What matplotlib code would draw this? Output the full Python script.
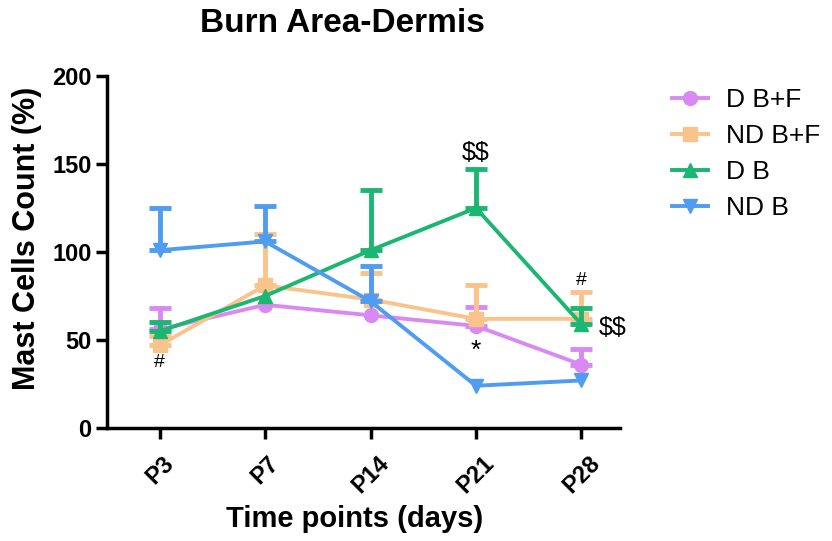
import numpy as np
import matplotlib.pyplot as plt

plt.rcParams['font.family'] = ['Liberation Sans', 'DejaVu Sans']

time_points = ["P3", "P7", "P14", "P21", "P28"]

# medias y error superior (SEM); None = barra no visible
d_bf = [56, 70, 64, 58, 36]
d_bf_err = [12, None, None, 11, 9]
nd_bf = [47, 81, 73, 62, 62]
nd_bf_err = [5, 29, 15, 19, 15]
d_b = [55, 75, 101, 125, 59]
d_b_err = [5, None, 34, 22, 9]
nd_b = [101, 106, 72, 24, 27]
nd_b_err = [24, 20, 20, None, None]

series = [
    ("D B+F", d_bf, d_bf_err, "#D98AF2", "o"),
    ("ND B+F", nd_bf, nd_bf_err, "#F9C38B", "s"),
    ("D B", d_b, d_b_err, "#1CB673", "^"),
    ("ND B", nd_b, nd_b_err, "#4F9CF0", "v"),
]

x = np.arange(len(time_points))

fig = plt.figure(figsize=(8.32, 5.41), dpi=100)
ax = fig.add_axes([0.1286, 0.2089, 0.617, 0.6506])

for name, vals, err, col, mk in series:
    idx = [i for i, e in enumerate(err) if e is not None]
    ex = x[idx]
    ey = [vals[i] for i in idx]
    ee = [err[i] for i in idx]
    ax.errorbar(ex, ey, yerr=[np.zeros(len(ee)), ee], fmt="none", ecolor=col,
                elinewidth=3.5, capsize=8, capthick=3.5)
    ax.plot(x, vals, color=col, marker=mk, markersize=10, linewidth=2.8,
            label=name)

ax.set_xlim(-0.5, 4.37)
ax.set_ylim(0, 200)
ax.set_yticks([0, 50, 100, 150, 200])
ax.set_xticks(x)
ax.set_xticklabels(time_points, rotation=45, fontweight="bold", fontsize=17)
for lab in ax.get_yticklabels():
    lab.set_fontweight("bold")
    lab.set_fontsize(17)
ax.spines["top"].set_visible(False)
ax.spines["right"].set_visible(False)
ax.spines["left"].set_linewidth(2.5)
ax.spines["bottom"].set_linewidth(2.5)
ax.tick_params(width=2.5, length=8, pad=3)
ax.tick_params(axis="x", pad=9)

fig.text(342 / 832, 1 - 24 / 541, "Burn Area-Dermis", ha="center", va="center",
         fontsize=24, fontweight="bold")
fig.text(27 / 832, 1 - 238 / 541, "Mast Cells Count (%)", ha="center",
         va="center", rotation=90, fontsize=22, fontweight="bold")
fig.text(355 / 832, 1 - 519 / 541, "Time points (days)", ha="center",
         va="center", fontsize=21, fontweight="bold")

# marcas de significancia
ax.text(0, 37, "#", ha="center", va="center", fontsize=14)
ax.text(3, 156, r"\$\$", ha="center", va="center", fontsize=18)
ax.text(3, 44, "*", ha="center", va="center", fontsize=19)
ax.text(4, 84, "#", ha="center", va="center", fontsize=14)
ax.text(4.17, 57, r"\$\$", ha="left", va="center", fontsize=18)

ax.legend(loc="upper left", bbox_to_anchor=(1.08, 0.995), frameon=False,
          fontsize=19, handlelength=1.35, handletextpad=0.7, labelspacing=0.45,
          borderaxespad=0)

fig.savefig("out.png", dpi=100)
